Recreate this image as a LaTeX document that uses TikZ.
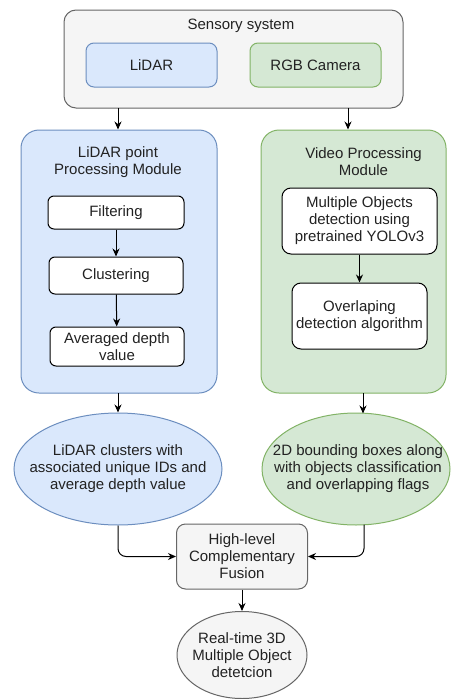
\documentclass[tikz,border=0pt]{standalone}
\usepackage{fontspec}
\setmainfont{Liberation Sans}
\usetikzlibrary{arrows.meta,shapes.geometric}
\definecolor{bluef}{HTML}{DAE8FC}
\definecolor{blued}{HTML}{6C8EBF}
\definecolor{greenf}{HTML}{D5E8D4}
\definecolor{greend}{HTML}{82B366}
\definecolor{grayf}{HTML}{F5F5F5}
\definecolor{grayd}{HTML}{666666}
\definecolor{txt}{HTML}{222222}
\tikzset{
  base/.style={font=\fontsize{15}{17}\selectfont, text=txt, align=center, inner sep=0pt, line width=1pt},
  rbox/.style={base, rectangle, draw, rounded corners=#1},
  rbox/.default=6pt,
  graybox/.style={rbox=12pt, draw=grayd, fill=grayf},
  bluebox/.style={rbox=8pt, draw=blued, fill=bluef},
  greenbox/.style={rbox=8pt, draw=greend, fill=greenf},
  whitebox/.style={rbox=6pt, draw=black, fill=white},
  ell/.style={base, ellipse, draw},
  lbl/.style={base},
  arr/.style={line width=1pt, draw=black, -{Stealth[length=8pt,width=7pt]}}
}
\begin{document}
\begin{tikzpicture}[x=1pt,y=-1pt]
\useasboundingbox (0,0) rectangle (452,699);
% sensory system
\node[graybox, minimum width=339pt, minimum height=98pt] (sens) at (233.5,59) {};
\node[lbl] (senst) at (241,26) {Sensory system};
\node[bluebox, minimum width=131pt, minimum height=44pt] (lidar) at (151.5,65) {LiDAR};
\node[greenbox, minimum width=131pt, minimum height=44pt] (rgb) at (315.5,65) {RGB Camera};
% modules
\node[bluebox, rbox=18pt, minimum width=196pt, minimum height=263pt] (lmod) at (119,261.5) {};
\node[lbl] (lmodt) at (118,162) {LiDAR point\\Processing Module};
\node[greenbox, rbox=18pt, minimum width=185pt, minimum height=263pt] (rmod) at (353.5,261.5) {};
\node[lbl] (rmodt) at (363.5,162) {Video Processing\\Module};
% lidar steps
\node[whitebox, minimum width=136pt, minimum height=33pt] (filt) at (116,212.5) {Filtering};
\node[whitebox, minimum width=134pt, minimum height=37pt] (clus) at (116,275.5) {Clustering};
\node[whitebox, minimum width=134pt, minimum height=39pt] (avg) at (117,346.5) {Averaged depth\\value};
% video steps
\node[whitebox, rbox=9pt, minimum width=155pt, minimum height=66pt] (mult) at (359.5,221) {Multiple Objects\\detection using\\pretrained YOLOv3};
\node[whitebox, rbox=9pt, minimum width=135pt, minimum height=66pt] (ovl) at (359.5,316) {Overlaping\\detection algorithm};
% outputs
\node[ell, draw=blued, fill=bluef, minimum width=208pt, minimum height=112pt] (lell) at (118,469) {};
\node[lbl] (lellt) at (lell) {LiDAR clusters with\\associated unique IDs and\\average depth value};
\node[ell, draw=greend, fill=greenf, minimum width=188pt, minimum height=112pt] (rell) at (356,469) {};
\node[lbl] (rellt) at (358,469) {2D bounding boxes along\\with objects classification\\and overlapping flags};
% fusion
\node[graybox, rbox=9pt, minimum width=131pt, minimum height=65pt] (fus) at (242,556.5) {High-level\\Complementary\\Fusion};
\node[ell, draw=grayd, fill=grayf, minimum width=130pt, minimum height=87pt] (fin) at (242,655) {};
\node[lbl] (fint) at (fin) {Real-time 3D\\Multiple Object\\detetcion};
% connectors
\coordinate (ls) at (118,108);
\coordinate (rs) at (348,108);
\draw[arr] (ls) -- (ls |- lmod.north);
\draw[arr] (rs) -- (rs |- rmod.north);
\draw[arr] (filt) -- (clus);
\draw[arr] (clus) -- (avg);
\draw[arr] (mult) -- (ovl);
\coordinate (lb) at (118,393);
\coordinate (rb) at (363,393);
\draw[arr] (lb) -- (lell.north);
\coordinate (rt) at (363,413.5);
\draw[arr] (rb) -- (rt);
\draw[arr, rounded corners=8pt] (lell.south) |- (fus.west);
\coordinate (re) at (364,524.5);
\draw[arr, rounded corners=8pt] (re) |- (fus.east);
\draw[arr] (fus) -- (fin);
\end{tikzpicture}
\end{document}
